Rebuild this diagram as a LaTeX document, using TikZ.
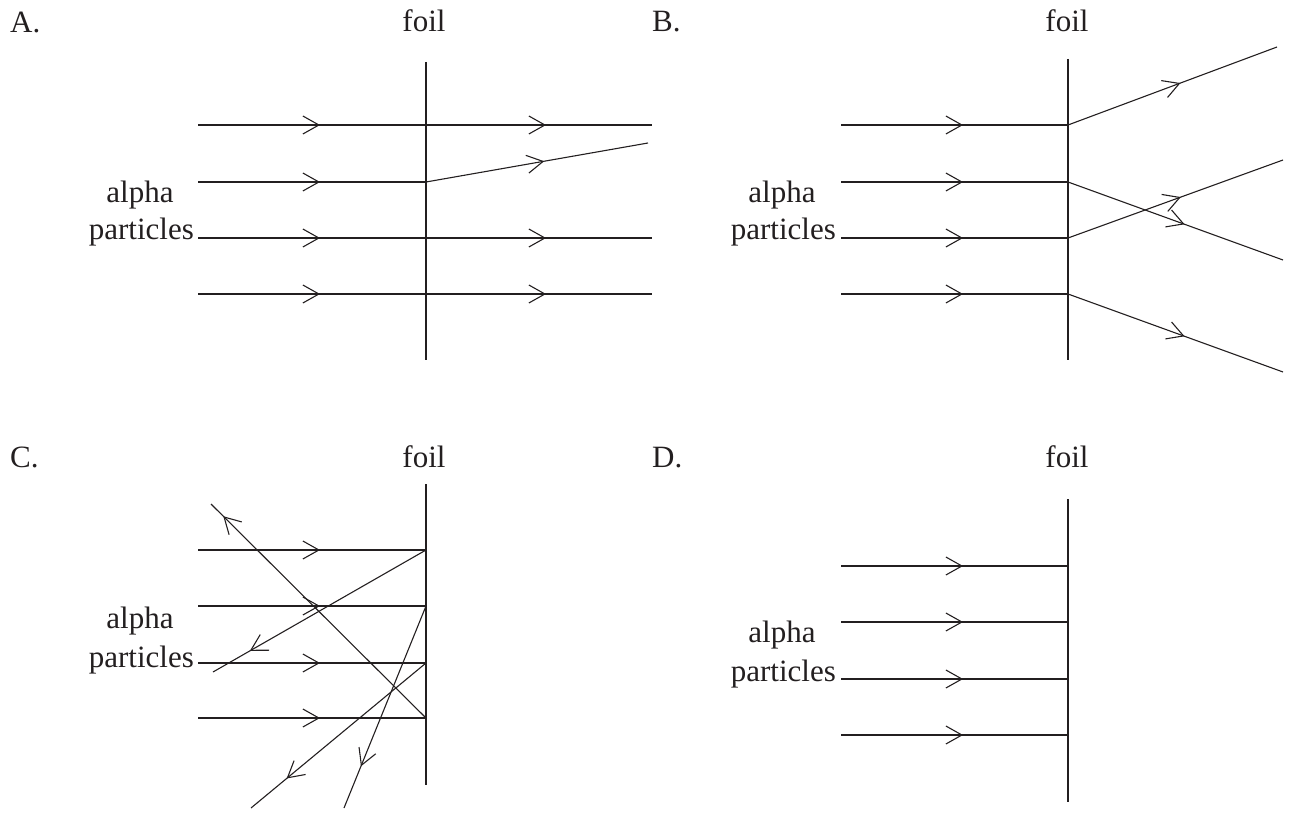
\documentclass[tikz,border=0pt]{standalone}
\usepackage{fontspec}
\setmainfont{Liberation Serif}
\usetikzlibrary{arrows.meta,decorations.markings}
\definecolor{ink}{HTML}{231F20}
\tikzset{
  ray/.style={line width=1.1pt, draw=ink},
  arr/.style={ray, postaction={decorate},
    decoration={markings, mark=at position #1 with {\arrow{Straight Barb[length=16pt,width=18pt,line width=1.1pt]}}}},
  foilline/.style={line width=1.3pt, draw=ink},
  lbl/.style={font=\fontsize{31}{36}\selectfont, text=ink, inner sep=0pt, anchor=base west},
  ctr/.style={lbl, anchor=base},
  rgt/.style={lbl, anchor=base east},
}
\begin{document}
\begin{tikzpicture}[x=1pt,y=-1pt]
\useasboundingbox (0,0) rectangle (1289,818);

% ---------- Panel A ----------
\node[lbl] (Alab) at (10,33) {A.};
\node[ctr] (Afoiltxt) at (424,32) {foil};
\coordinate (Aft) at (426,62);
\coordinate (Afb) at (426,360);
\draw[foilline] (Aft) -- (Afb);
\node[ctr] (Aalpha) at (140,203) {alpha};
\node[rgt] (Apart) at (194,240) {particles};
\foreach \i/\y in {1/125,2/182,3/238,4/294}{
  \coordinate (As\i) at (198,\y);
  \coordinate (Ah\i) at (426,\y);
  \draw[arr=122pt] (As\i) -- (Ah\i);
}
\coordinate (Ae1) at (652,125);
\coordinate (Ae2) at (648,143);
\coordinate (Ae3) at (652,238);
\coordinate (Ae4) at (652,294);
\foreach \i in {1,2,3,4}{ \draw[arr=120pt] (Ah\i) -- (Ae\i); }

% ---------- Panel B ----------
\node[lbl] (Blab) at (652,32) {B.};
\node[ctr] (Bfoiltxt) at (1067,32) {foil};
\coordinate (Bft) at (1068,59);
\coordinate (Bfb) at (1068,360);
\draw[foilline] (Bft) -- (Bfb);
\node[ctr] (Balpha) at (782,203) {alpha};
\node[rgt] (Bpart) at (836,240) {particles};
\foreach \i/\y in {1/125,2/182,3/238,4/294}{
  \coordinate (Bs\i) at (841,\y);
  \coordinate (Bh\i) at (1068,\y);
  \draw[arr=122pt] (Bs\i) -- (Bh\i);
}
\coordinate (Be1) at (1277,47);
\coordinate (Be2) at (1283,260);
\coordinate (Be3) at (1283,160);
\coordinate (Be4) at (1283,372);
\draw[arr=120pt] (Bh1) -- (Be1);
\draw[arr=124pt] (Bh2) -- (Be2);
\draw[arr=120pt] (Bh3) -- (Be3);
\draw[arr=124pt] (Bh4) -- (Be4);

% ---------- Panel C ----------
\node[lbl] (Clab) at (10,467) {C.};
\node[ctr] (Cfoiltxt) at (424,467) {foil};
\coordinate (Cft) at (426,484);
\coordinate (Cfb) at (426,785);
\draw[foilline] (Cft) -- (Cfb);
\node[ctr] (Calpha) at (140,628) {alpha};
\node[rgt] (Cpart) at (194,667) {particles};
\foreach \i/\y in {1/550,2/606,3/663,4/718}{
  \coordinate (Cs\i) at (198,\y);
  \coordinate (Ch\i) at (426,\y);
  \draw[arr=122pt] (Cs\i) -- (Ch\i);
}
\coordinate (Ce1) at (213,672);
\coordinate (Ce2) at (344,808);
\coordinate (Ce3) at (251,808);
\coordinate (Ce4) at (211,504);
\draw[arr=203pt] (Ch1) -- (Ce1);
\draw[arr=173pt] (Ch2) -- (Ce2);
\draw[arr=181pt] (Ch3) -- (Ce3);
\draw[arr=286pt] (Ch4) -- (Ce4);

% ---------- Panel D ----------
\node[lbl] (Dlab) at (652,467) {D.};
\node[ctr] (Dfoiltxt) at (1067,467) {foil};
\coordinate (Dft) at (1068,499);
\coordinate (Dfb) at (1068,802);
\draw[foilline] (Dft) -- (Dfb);
\node[ctr] (Dalpha) at (782,642) {alpha};
\node[rgt] (Dpart) at (836,681) {particles};
\foreach \i/\y in {1/566,2/622,3/679,4/735}{
  \coordinate (Ds\i) at (841,\y);
  \coordinate (Dh\i) at (1068,\y);
  \draw[arr=122pt] (Ds\i) -- (Dh\i);
}
\end{tikzpicture}
\end{document}
